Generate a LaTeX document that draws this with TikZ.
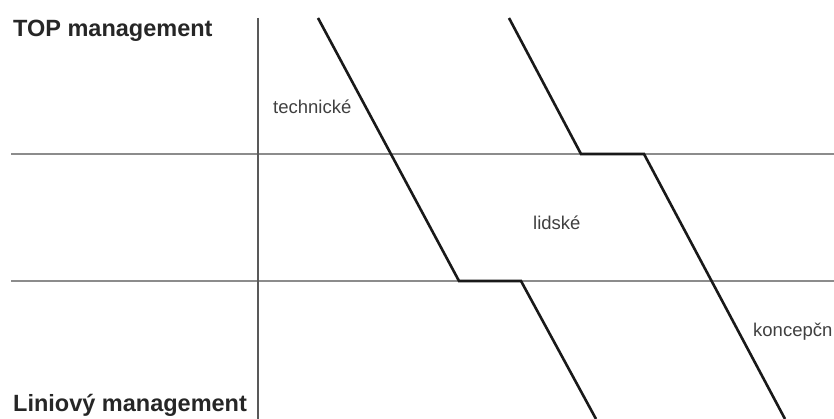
\documentclass[tikz,border=0pt]{standalone}
\usepackage{fontspec}
\setmainfont{Liberation Sans}
\begin{document}
\begin{tikzpicture}[x=1pt,y=-1pt,
  gridline/.style={draw=black!45,line width=1.6pt},
  axisline/.style={draw=black!65,line width=1.1pt},
  curve/.style={draw=black!90,line width=2.6pt,line join=miter},
  level/.style={inner sep=0pt,anchor=base west,font=\fontsize{23.5}{26}\selectfont\bfseries,text=black!85},
  skill/.style={inner sep=0pt,anchor=base west,font=\fontsize{18.5}{21}\selectfont,text=black!75}]
\useasboundingbox (0,0) rectangle (834,419);
\fill[white] (0,0) rectangle (834,419);
% grid
\coordinate (h1l) at (11,154); \coordinate (h1r) at (834,154);
\coordinate (h2l) at (11,281); \coordinate (h2r) at (834,281);
\coordinate (vt) at (258,18); \coordinate (vb) at (258,419);
\draw[gridline] (h1l) -- (h1r);
\draw[gridline] (h2l) -- (h2r);
\draw[axisline] (vt) -- (vb);
% curve 1
\coordinate (a1) at (318,18); \coordinate (a2) at (459,281);
\coordinate (a3) at (521,281); \coordinate (a4) at (596,419);
\draw[curve] (a1) -- (a2) -- (a3) -- (a4);
% curve 2
\coordinate (b1) at (509,18); \coordinate (b2) at (581,154);
\coordinate (b3) at (644,154); \coordinate (b4) at (785,419);
\draw[curve] (b1) -- (b2) -- (b3) -- (b4);
% labels
\node[level] (top) at (13,37) {TOP management};
\node[level] (lin) at (13,411) {Liniový management};
\node[skill] (tech) at (273,114) {technické};
\node[skill] (lid) at (533,230) {lidské};
\node[skill] (konc) at (753,336) {koncepčn};
\end{tikzpicture}
\end{document}
